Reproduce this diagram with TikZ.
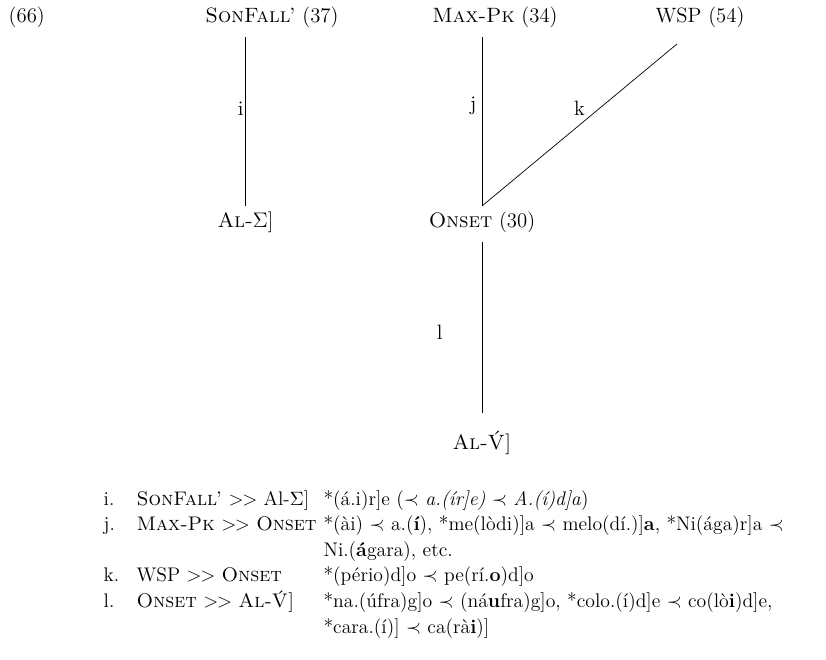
\documentclass[tikz,border=0pt]{standalone}
\usepackage{amsmath, amssymb}
\usepackage{tikz}
\usetikzlibrary{positioning}
\tikzstyle{cnstr}=[inner sep=3pt]
\tikzstyle{dom}=[thin]
\tikzstyle{lbl}=[inner sep=1pt]
\newcommand{\dom}{>\kern-0.8pt>}
\newcommand{\Vac}{\accent"00B4 V}

\begin{document}
\begin{tikzpicture}[font=\fontsize{11.8pt}{14.3pt}\selectfont]
\useasboundingbox (0,0) rectangle (16.52,-13.2);
\node[anchor=west] (num) at (0.05,-0.34) {(66)};
\node[cnstr] (sonfall) at (5.44,-0.34) {\textsc{SonFall'} (37)};
\node[cnstr] (maxpk) at (9.9,-0.34) {\textsc{Max-Pk} (34)};
\node[cnstr] (wsp) at (14.0,-0.34) {WSP (54)};
\node[cnstr] (alsig) at (4.91,-4.44) {\textsc{Al-}$\Sigma$]};
\node[cnstr] (onset) at (9.64,-4.44) {\textsc{Onset} (30)};
\node[cnstr] (alv) at (9.64,-8.86) {\textsc{Al-\Vac]}};
%ranking lines
\draw[dom,shorten <=2.5pt] (alsig.north |- sonfall.south) -- (alsig.north)
  node[lbl,pos=0.44,left]{i};
\draw[dom,shorten <=2.5pt] (onset.north |- maxpk.south) -- (onset.north)
  node[lbl,pos=0.42,left=2pt]{j};
\draw[dom] (onset.north) -- ([xshift=0.54cm,yshift=-0.22cm]wsp.south west)
  node[lbl,midway,above=4pt]{k};
\draw[dom,shorten <=2.5pt,shorten >=7.4pt] (onset.south) -- (alv.north)
  node[lbl,midway,left=0.75cm]{l};
%violations
\node[anchor=base west] (list) at (1.95,-10.1) {%
\fontsize{11.2pt}{14.6pt}\selectfont
\begin{tabular}[t]{@{}p{0.66cm}@{}l@{\hspace{0.14cm}}l@{}}
i. & \textsc{SonFall'} \dom{} Al-$\Sigma$] & *(á.i)r]e ($\prec$ \textit{a.(ír]e)} $\prec$ \textit{A.(í)d]a})\\
j. & \textsc{Max-Pk} \dom{} \textsc{Onset} & *(ài) $\prec$ a.(\textbf{í}), *me(lòdi)]a $\prec$ melo(dí.)]\textbf{a}, *Ni(ága)r]a $\prec$\\
 & & Ni.(\textbf{á}gara), etc.\\
k. & WSP \dom{} \textsc{Onset} & *(pério)d]o $\prec$ pe(rí.\textbf{o})d]o\\
l. & \textsc{Onset} \dom{} \textsc{Al-\Vac]} & *na.(úfra)g]o $\prec$ (ná\textbf{u}fra)g]o, *colo.(í)d]e $\prec$ co(lò\textbf{i})d]e,\\
 & & *cara.(í)] $\prec$ ca(rà\textbf{i})]
\end{tabular}};
\end{tikzpicture}
\end{document}
